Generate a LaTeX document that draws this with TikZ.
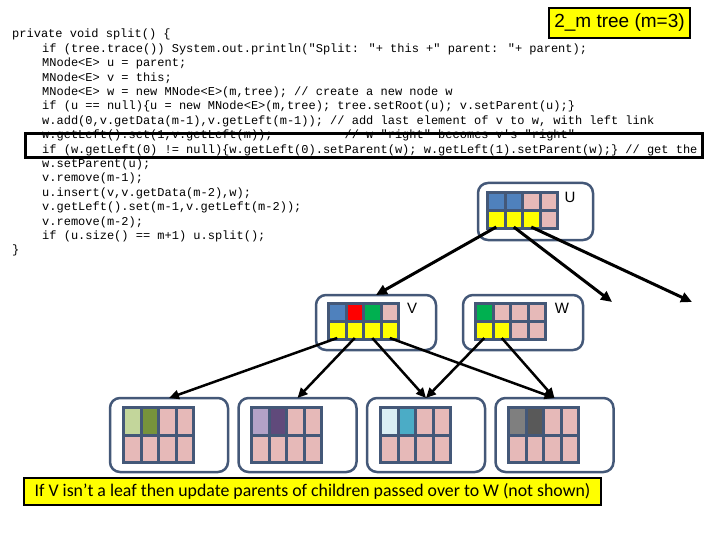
\documentclass[tikz,border=0pt]{standalone}
\usepackage{fontspec}
\setmainfont{Liberation Sans}
\newfontfamily\codefont{Liberation Mono}
\newfontfamily\capfont{Carlito}
\usetikzlibrary{arrows.meta}

\definecolor{frame}{RGB}{68,88,120}
\definecolor{cblue}{HTML}{4F81BD}
\definecolor{cpink}{HTML}{E6B9B8}
\definecolor{cyellow}{HTML}{FFFF00}
\definecolor{cred}{HTML}{FF0000}
\definecolor{cgreen}{HTML}{00B050}
\definecolor{lgreen}{HTML}{C3D69B}
\definecolor{olive}{HTML}{77933C}
\definecolor{lav}{HTML}{B3A2C7}
\definecolor{purp}{HTML}{604A7B}
\definecolor{lblue}{HTML}{DBEEF4}
\definecolor{teal2}{HTML}{4BACC6}
\definecolor{gray1}{HTML}{7F7F7F}
\definecolor{gray2}{HTML}{595959}

\tikzset{
  cell/.style={draw=none, inner sep=0pt, outer sep=0pt},
  tbox/.style={draw=frame, line width=2.5pt, rounded corners=10pt, inner sep=0pt, outer sep=0pt},
  code/.style={anchor=base west, inner sep=0pt, font=\codefont\fontsize{12}{14}\selectfont},
  lbl/.style={inner sep=0pt, font=\fontsize{15}{16}\selectfont},
  arr/.style={-{Triangle[length=11pt,width=10pt]}, line width=3pt},
  arrs/.style={-{Triangle[length=10pt,width=9pt]}, line width=2.5pt},
  hlbox/.style={draw=black, line width=3pt, inner sep=0pt},
  ybox/.style={draw=black, line width=1.2pt, fill=cyellow, inner sep=0pt},
}

\newcommand{\cellgrid}[6]{%
  \fill[frame] (#2,#3) rectangle ++({4*#4+15},{2*#5+9});
  \foreach \cc [count=\i from 0] in {#6}{%
    \pgfmathtruncatemacro{\col}{mod(\i,4)}%
    \pgfmathtruncatemacro{\row}{div(\i,4)}%
    \node[cell, fill=\cc, minimum width=#4pt, minimum height=#5pt] (#1-\i) at ({#2+3+#4/2+\col*(#4+3)},{#3+3+#5/2+\row*(#5+3)}) {};
  }%
}

\begin{document}
\begin{tikzpicture}[x=1pt,y=-1pt]
\useasboundingbox (0,0) rectangle (720,540);
\begin{scope}
\clip (0,0) rectangle (720,540);
% code
\node[code] (l1) at (12,38.0) {private void split() \{};
\node[code] (l2) at (42,52.4) {if (tree.trace()) System.out.println("Split: "+ this +" parent: "+ parent);};
\node[code] (l3) at (42,66.8) {MNode<E> u = parent;};
\node[code] (l4) at (42,81.2) {MNode<E> v = this;};
\node[code] (l5) at (42,95.6) {MNode<E> w = new MNode<E>(m,tree); // create a new node w};
\node[code] (l6) at (42,110.0) {if (u == null)\{u = new MNode<E>(m,tree); tree.setRoot(u); v.setParent(u);\}};
\node[code] (l7) at (42,124.4) {w.add(0,v.getData(m-1),v.getLeft(m-1)); // add last element of v to w, with left link};
\node[code] (l8) at (42,138.8) {w.getLeft().set(1,v.getLeft(m));\phantom{xxxxxxxxxx}// w "right" becomes v's "right"};
\node[code] (l9) at (42,153.2) {if (w.getLeft(0) != null)\{w.getLeft(0).setParent(w); w.getLeft(1).setParent(w);\} // get the};
\node[code] (l10) at (42,167.6) {w.setParent(u);};
\node[code] (l11) at (42,182.0) {v.remove(m-1);};
\node[code] (l12) at (42,196.4) {u.insert(v,v.getData(m-2),w);};
\node[code] (l13) at (42,210.8) {v.getLeft().set(m-1,v.getLeft(m-2));};
\node[code] (l14) at (42,225.2) {v.remove(m-2);};
\node[code] (l15) at (42,239.6) {if (u.size() == m+1) u.split();};
\node[code] (l16) at (12,254.0) {\}};
\end{scope}

% highlight box
\node[hlbox, minimum width=677pt, minimum height=24pt] (hl) at (363.5,145.5) {};

% title
\node[ybox, minimum width=141pt, minimum height=30pt, font=\fontsize{19}{21}\selectfont] (title) at (619.5,23) {2\_m tree (m=3)};

% U node
\node[tbox, minimum width=115pt, minimum height=57pt] (U) at (535.5,211.5) {};
\cellgrid{U}{486}{191}{14.5}{15}{cblue,cblue,cpink,cpink,cyellow,cyellow,cyellow,cpink}
\node[lbl] (Ul) at (570,197) {U};

% V node
\node[tbox, minimum width=120pt, minimum height=55pt] (V) at (376,322.5) {};
\cellgrid{V}{327}{302}{14.5}{15}{cblue,cred,cgreen,cpink,cyellow,cyellow,cyellow,cyellow}
\node[lbl] (Vl) at (412,308) {V};

% W node
\node[tbox, minimum width=120pt, minimum height=55pt] (W) at (523,322.5) {};
\cellgrid{W}{474}{302}{14.5}{15}{cgreen,cpink,cpink,cpink,cyellow,cyellow,cpink,cpink}
\node[lbl] (Wl) at (562,308) {W};

% bottom nodes
\node[tbox, minimum width=118pt, minimum height=74pt] (B1) at (169,435) {};
\cellgrid{B1}{122}{406}{14.5}{24.5}{lgreen,olive,cpink,cpink,cpink,cpink,cpink,cpink}
\node[tbox, minimum width=118pt, minimum height=74pt] (B2) at (297.5,435) {};
\cellgrid{B2}{250}{406}{14.5}{24.5}{lav,purp,cpink,cpink,cpink,cpink,cpink,cpink}
\node[tbox, minimum width=118pt, minimum height=74pt] (B3) at (426,435) {};
\cellgrid{B3}{379}{406}{14.5}{24.5}{lblue,teal2,cpink,cpink,cpink,cpink,cpink,cpink}
\node[tbox, minimum width=118pt, minimum height=74pt] (B4) at (554.5,435) {};
\cellgrid{B4}{507}{406}{14.5}{24.5}{gray1,gray2,cpink,cpink,cpink,cpink,cpink,cpink}

% free ends
\coordinate (u2end) at (612,302);
\coordinate (u3end) at (692,302);

% arrows
\draw[arr] (U-4.south) -- (V.north);
\draw[arr] (U-5.south) -- (u2end);
\draw[arr] (U-6.south) -- (u3end);
\draw[arrs] (V-4.south) -- (B1.north);
\draw[arrs] (V-5.south) -- (B2.north);
\draw[arrs] (V-6.south) -- (B3.north);
\draw[arrs] (V-7.south) -- (B4.north);
\draw[arrs] (W-4.south) -- (B3.north);
\draw[arrs] (W-5.south) -- (B4.north);

% caption
\node[ybox, minimum width=577pt, minimum height=27pt, font=\capfont\fontsize{17.8}{19}\selectfont] (cap) at (312.5,491.5) {If V isn’t a leaf then update parents of children passed over to W (not shown)};
\end{tikzpicture}
\end{document}
